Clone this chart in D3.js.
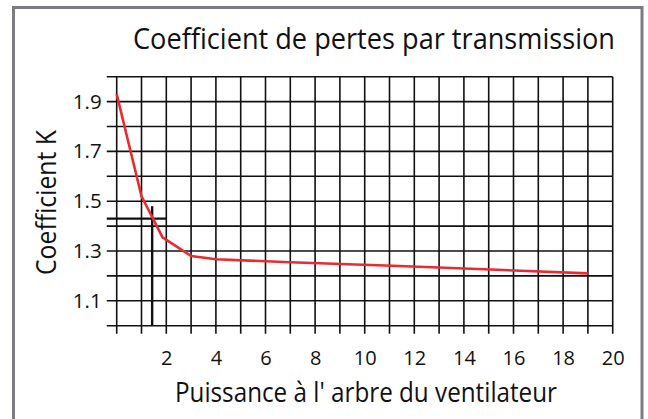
<!DOCTYPE html>
<html>
<head>
<meta charset="utf-8">
<script src="https://cdn.jsdelivr.net/npm/d3@7"></script>
<style>
  html, body { margin: 0; padding: 0; background: #fff; }
  svg { display: block; }
  text { font-family: "Open Sans", "Noto Sans", sans-serif; fill: #111; }
</style>
</head>
<body>
<svg id="chart" width="648" height="419"></svg>
<script>
// ---- data ----
const titleText = "Coefficient de pertes par transmission";
const xTitle = "Puissance à l' arbre du ventilateur";
const yTitle = "Coefficient K";

const powerValues = [0, 1, 1.85, 3, 4, 7, 11.4, 19];
const kValues = [1.93, 1.52, 1.355, 1.28, 1.267, 1.255, 1.24, 1.21];

const xGridValues = d3.range(0, 21, 1);
const yGridValues = d3.range(10, 21, 1).map(v => v / 10);
const xTickLabels = [2, 4, 6, 8, 10, 12, 14, 16, 18, 20];
const yTickLabels = [1.1, 1.3, 1.5, 1.7, 1.9];

// reading example (black guide lines)
const refPower = 1.43;
const refK = 1.43;
const refVerticalTop = 1.48;
const refHorizontalStart = -0.4;
const refHorizontalEnd = 2;

// ---- chart ----
const svg = d3.select("#chart");
const x = d3.scaleLinear().domain([0, 20]).range([116.7, 612.7]);
const y = d3.scaleLinear().domain([1.0, 2.0]).range([325.7, 76.7]);

// frame
svg.append("rect")
  .attr("x", 13.5).attr("y", 7.5)
  .attr("width", 628.5).attr("height", 500)
  .attr("fill", "none").attr("stroke", "#7b7b82").attr("stroke-width", 3);

// title
svg.append("text")
  .attr("x", 133).attr("y", 48.5)
  .attr("font-size", 28.5)
  .attr("textLength", 482).attr("lengthAdjust", "spacingAndGlyphs")
  .text(titleText);

const grid = svg.append("g").attr("stroke", "#111").attr("stroke-width", 1.6);

// horizontal grid lines
grid.selectAll("line.h").data(yGridValues).join("line")
  .attr("class", "h")
  .attr("x1", x(-0.4)).attr("x2", x(20))
  .attr("y1", d => y(d)).attr("y2", d => y(d));

// vertical grid lines (extended below as ticks)
grid.selectAll("line.v").data(xGridValues).join("line")
  .attr("class", "v")
  .attr("x1", d => x(d)).attr("x2", d => x(d))
  .attr("y1", y(2.0)).attr("y2", y(1.0) + 8);

// axes labels via d3 axes
const fmtY = d3.format(".1f");
const xAxis = svg.append("g")
  .attr("transform", `translate(0,${y(1.0)})`)
  .call(d3.axisBottom(x).tickValues(xTickLabels).tickSize(0).tickPadding(25).tickFormat(d3.format("d")));
xAxis.select(".domain").remove();
xAxis.selectAll("text").attr("font-size", 20).attr("fill", "#111")
  .style("font-family", "'Open Sans', sans-serif");

const yAxis = svg.append("g")
  .attr("transform", `translate(${x(0)},0)`)
  .call(d3.axisLeft(y).tickValues(yTickLabels).tickSize(0).tickPadding(15).tickFormat(fmtY));
yAxis.select(".domain").remove();
yAxis.selectAll("text").attr("font-size", 20.5).attr("fill", "#111")
  .style("font-family", "'Open Sans', sans-serif");

// guide lines
svg.append("line")
  .attr("x1", x(refHorizontalStart)).attr("x2", x(refHorizontalEnd))
  .attr("y1", y(refK)).attr("y2", y(refK))
  .attr("stroke", "#111").attr("stroke-width", 2.4);
svg.append("line")
  .attr("x1", x(refPower)).attr("x2", x(refPower))
  .attr("y1", y(refVerticalTop)).attr("y2", y(1.0))
  .attr("stroke", "#111").attr("stroke-width", 2.4);

// curve
const pts = powerValues.map((p, i) => [p, kValues[i]]);
svg.append("path")
  .datum(pts)
  .attr("fill", "none")
  .attr("stroke", "#ea2a2f")
  .attr("stroke-width", 2.6)
  .attr("stroke-linejoin", "round")
  .attr("d", d3.line().x(d => x(d[0])).y(d => y(d[1])));

// axis titles
svg.append("text")
  .attr("x", 175).attr("y", 401.5)
  .attr("font-size", 27)
  .attr("textLength", 382).attr("lengthAdjust", "spacingAndGlyphs")
  .text(xTitle);

svg.append("text")
  .attr("transform", "translate(55.5,275) rotate(-90)")
  .attr("x", 0).attr("y", 0)
  .attr("font-size", 26.5)
  .attr("textLength", 145).attr("lengthAdjust", "spacingAndGlyphs")
  .text(yTitle);
</script>
</body>
</html>
